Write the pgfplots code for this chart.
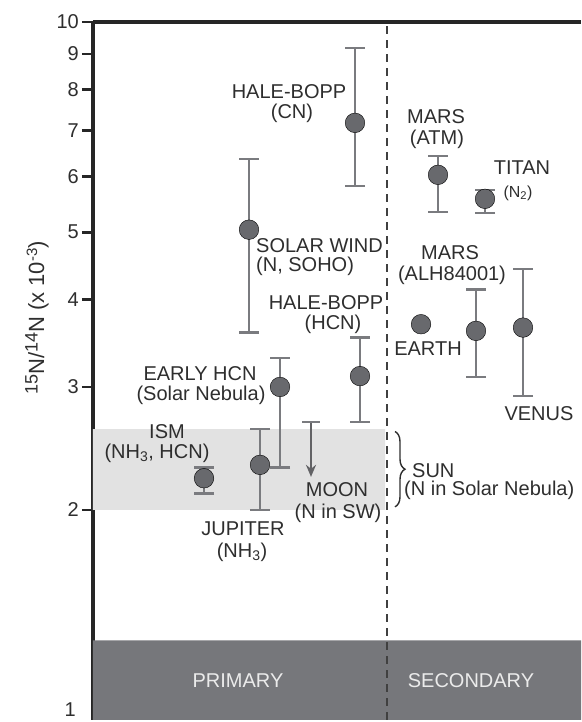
\documentclass[border=0pt]{standalone}
\usepackage{fontspec}
\setmainfont{Liberation Sans}
\usepackage{pgfplots}
\pgfplotsset{compat=1.18}
\usepackage{pgfplotstable}
\usetikzlibrary{arrows.meta,decorations.pathreplacing}

\definecolor{dotc}{HTML}{68696D}
\definecolor{barc}{HTML}{7A7B7F}
\definecolor{bandc}{HTML}{76777B}
\definecolor{shadec}{HTML}{E2E2E2}
\definecolor{txt}{HTML}{2E2E2E}

% x = horizontal position in the panel, y = 15N/14N (x 10^-3), ep/em = upper/lower error
\pgfplotstableread{
x   y    ep   em
355 7.17 2.01 1.35
249 5.04 1.32 1.45
360 3.11 0.42 0.44
280 3.00 0.30 0.70
260 2.32 0.29 0.32
204 2.22 0.08 0.11
438 6.04 0.39 0.70
485 5.58 0.17 0.25
476 3.61 0.53 0.51
523 3.65 0.78 0.74
}\pts

\begin{document}
\begin{tikzpicture}[lbl/.style={font=\fontsize{20}{23}\selectfont, text=txt, inner sep=0pt}]
\begin{axis}[
  scale only axis, width=488pt, height=698pt,
  xmin=93, xmax=581, ymode=log, ymin=1, ymax=10,
  axis x line*=top, axis y line*=left,
  axis line style={-, line width=3.2pt, black!85},
  xtick=\empty,
  ytick={2,3,4,5,6,7,8,9,10},
  yticklabels={2,3,4,5,6,7,8,9,10},
  minor ytick={},
  tick align=outside, major tick length=11pt,
  tick style={line width=2.8pt, black!85},
  yticklabel style={font=\fontsize{20}{23}\selectfont, text=txt, inner xsep=3pt},
  clip=false,
]
% bands
\addplot[draw=none, fill=bandc] coordinates {(93,1) (581,1) (581,1.30) (93,1.30) (93,1)};
\addplot[draw=none, fill=shadec] coordinates {(93,2.0) (385,2.0) (385,2.61) (93,2.61) (93,2.0)};
% divider
\addplot[black!75, line width=1.6pt, dash pattern=on 8pt off 6pt] coordinates {(387,1) (387,10)};

% points with error bars
\addplot[only marks, mark=*, mark size=9.8pt, mark options={fill=dotc, draw=none},
  error bars/.cd, y dir=both, y explicit,
  error bar style={barc, line width=2.4pt},
  error mark options={rotate=90, mark size=10pt, barc, line width=2.4pt}]
  table[x=x, y=y, y error plus=ep, y error minus=em] {\pts};
% Earth, no error bar
\addplot[only marks, mark=*, mark size=9.8pt, mark options={fill=dotc, draw=none}]
  coordinates {(421,3.69)};
% Moon upper limit
\addplot[barc!80!black, line width=2.4pt, -{Stealth[length=12pt, width=10pt]}] coordinates {(311,2.67) (311,2.23)};
\addplot[barc, line width=2.4pt] coordinates {(302,2.67) (320,2.67)};

% brace for the Sun
\draw[txt, line width=1.4pt, decorate, decoration={brace, amplitude=10pt}]
  (axis cs:395,2.59) -- (axis cs:395,2.02);

% labels
\node[lbl] at (axis cs:289,7.94) {HALE-BOPP};
\node[lbl] at (axis cs:292,7.41) {(CN)};
\node[lbl, anchor=west] at (axis cs:256,4.79) {SOLAR WIND};
\node[lbl, anchor=west] at (axis cs:256,4.46) {(N, SOHO)};
\node[lbl] at (axis cs:326,3.96) {HALE-BOPP};
\node[lbl] at (axis cs:333,3.69) {(HCN)};
\node[lbl] at (axis cs:200,3.14) {EARLY HCN};
\node[lbl] at (axis cs:201,2.92) {(Solar Nebula)};
\node[lbl] at (axis cs:167,2.59) {ISM};
\node[lbl] at (axis cs:157,2.41) {(NH\textsubscript{3}, HCN)};
\node[lbl] at (axis cs:243,1.88) {JUPITER};
\node[lbl] at (axis cs:242,1.74) {(NH\textsubscript{3})};
\node[lbl] at (axis cs:337,2.14) {MOON};
\node[lbl] at (axis cs:338,1.98) {(N in SW)};
\node[lbl] at (axis cs:436,7.31) {MARS};
\node[lbl] at (axis cs:437,6.78) {(ATM)};
\node[lbl] at (axis cs:522,6.18) {TITAN};
\node[lbl, font=\fontsize{16}{18}\selectfont] at (axis cs:518,5.69) {(N\textsubscript{2})};
\node[lbl] at (axis cs:450,4.67) {MARS};
\node[lbl] at (axis cs:452,4.34) {(ALH84001)};
\node[lbl] at (axis cs:428,3.41) {EARTH};
\node[lbl] at (axis cs:539,2.75) {VENUS};
\node[lbl, anchor=west] at (axis cs:412,2.28) {SUN};
\node[lbl, anchor=west] at (axis cs:404,2.13) {(N in Solar Nebula)};
\node[lbl, text=black!8] at (axis cs:238,1.14) {PRIMARY};
\node[lbl, text=black!8] at (axis cs:471,1.14) {SECONDARY};

% bottom tick label, lifted a little as in the reference
\node[lbl, anchor=east] at ([xshift=-17pt, yshift=10pt]rel axis cs:0,0) {1};

% y label
\node[lbl, rotate=90, font=\fontsize{22}{24}\selectfont] at ([xshift=-56pt]rel axis cs:0,0.576)
  {\raisebox{6.5pt}{\fontsize{18}{18}\selectfont 15}N/\raisebox{6.5pt}{\fontsize{18}{18}\selectfont 14}N (x 10\raisebox{7pt}{\fontsize{15}{15}\selectfont -3})};
\end{axis}
\pgfresetboundingbox
\path[use as bounding box] (-93pt,-2pt) rectangle (488pt,720pt);
\end{tikzpicture}
\end{document}
